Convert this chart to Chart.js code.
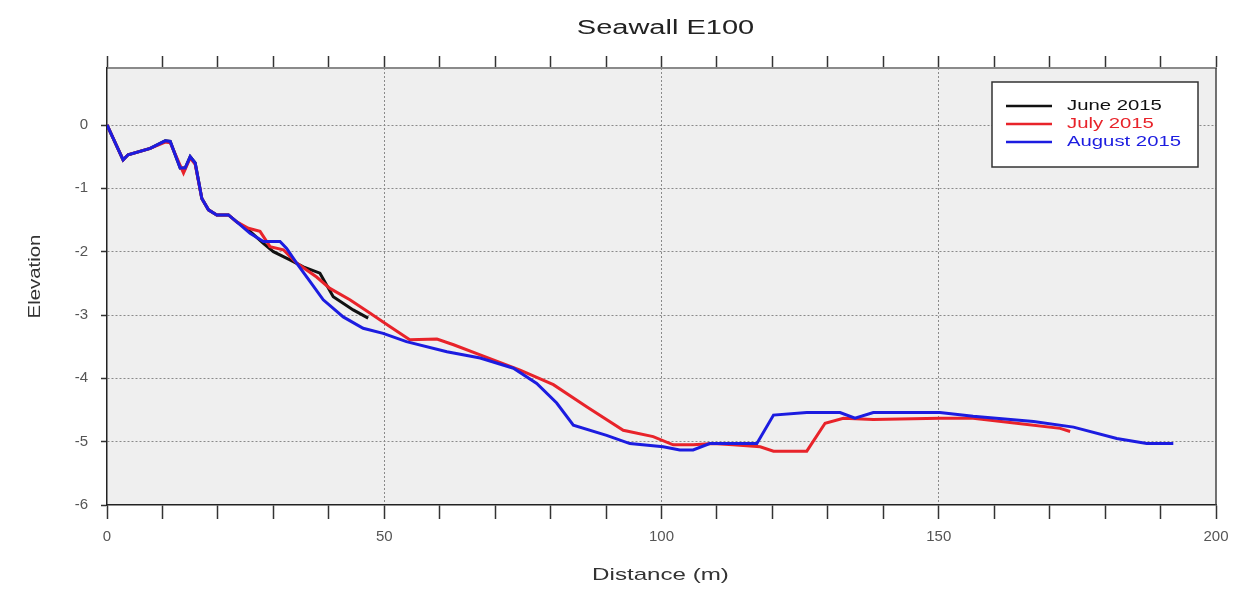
<!DOCTYPE html>
<html>
<head>
<meta charset="utf-8">
<script src="https://cdn.jsdelivr.net/npm/chart.js@4.4.1/dist/chart.umd.min.js"></script>
<style>
  html, body { margin: 0; padding: 0; background: #fff; }
  #wrap { width: 1245px; height: 591px; }
</style>
</head>
<body>
<div id="wrap"><canvas id="myChart" width="1245" height="591"></canvas></div>
<script>
var chartTitle = "Seawall E100";
var xTitle = "Distance (m)";
var yTitle = "Elevation";

var seriesNames = ["June 2015", "July 2015", "August 2015"];
var seriesColors = ["#111111", "#e8232a", "#1c1ce0"];

// distance (m) / elevation for each survey
var juneDist = [0, 2.9, 3.8, 7.8, 10.5, 11.4, 13.2, 14.1, 15, 15.9, 17.1, 18.3, 19.8, 21.9, 23.4, 25.8, 28.2, 30, 33, 35.4, 38.4, 40.8, 44.4, 47.1];
var juneElev = [0, -0.55, -0.47, -0.37, -0.25, -0.26, -0.68, -0.68, -0.5, -0.6, -1.16, -1.34, -1.42, -1.42, -1.53, -1.68, -1.87, -2.0, -2.13, -2.24, -2.34, -2.71, -2.92, -3.05];

var julyDist = [0, 2.9, 3.8, 7.8, 10.5, 11.4, 13.8, 15, 15.9, 17.1, 18.3, 19.8, 21.9, 23.4, 25.5, 27.6, 29.4, 31.8, 34.2, 37.8,
  40.2, 43.8, 47.4, 51, 54.6, 59.5, 62.5, 67.3, 74.5, 80.5, 86.5, 93.1, 98.5, 102.1, 105.7, 109.3, 112.9, 117.8, 120.2, 126.2,
  129.5, 132.8, 138.2, 150.2, 156.2, 164, 171.9, 173.7];
var julyElev = [0, -0.55, -0.47, -0.37, -0.27, -0.28, -0.76, -0.52, -0.62, -1.16, -1.34, -1.42, -1.42, -1.53, -1.63, -1.68, -1.92, -1.97, -2.18, -2.4,
  -2.58, -2.76, -2.97, -3.18, -3.39, -3.38, -3.47, -3.63, -3.87, -4.1, -4.45, -4.82, -4.92, -5.05, -5.05, -5.03, -5.05, -5.08, -5.15, -5.15,
  -4.71, -4.63, -4.65, -4.63, -4.63, -4.71, -4.79, -4.84];

var augDist = [0, 2.9, 3.8, 7.8, 10.5, 11.4, 13.2, 14.1, 15, 15.9, 17.1, 18.3, 19.8, 21.9, 23.4, 25.8, 28.2, 31.2, 32.4, 34.2,
  36.6, 39, 42.6, 46.2, 49.8, 54, 61.3, 67.3, 73.3, 77.5, 81.1, 84.1, 90.1, 94.3, 100.3, 103.3, 105.7, 108.7, 117.2, 120.2,
  126.2, 132.2, 134.9, 138.2, 150.2, 156.2, 167.1, 174.3, 182.1, 187.5, 192.3];
var augElev = [0, -0.55, -0.47, -0.37, -0.25, -0.26, -0.68, -0.68, -0.5, -0.6, -1.16, -1.34, -1.42, -1.42, -1.53, -1.71, -1.84, -1.84, -1.95, -2.18,
  -2.47, -2.76, -3.03, -3.21, -3.29, -3.42, -3.58, -3.68, -3.84, -4.08, -4.39, -4.74, -4.9, -5.03, -5.08, -5.13, -5.13, -5.03, -5.03, -4.58,
  -4.54, -4.54, -4.63, -4.54, -4.54, -4.6, -4.68, -4.77, -4.95, -5.03, -5.03];

var xMin = 0, xMax = 200, xStep = 10, xLabelEvery = 50;
var yMin = -6, yMax = 0.9, yStep = 1;

function toPoints(xs, ys) {
  var pts = [];
  for (var i = 0; i < xs.length; i++) pts.push({x: xs[i], y: ys[i]});
  return pts;
}

var allDist = [juneDist, julyDist, augDist];
var allElev = [juneElev, julyElev, augElev];
var datasets = [];
for (var i = 0; i < seriesNames.length; i++) {
  datasets.push({
    label: seriesNames[i],
    data: toPoints(allDist[i], allElev[i]),
    borderColor: seriesColors[i],
    backgroundColor: seriesColors[i],
    borderWidth: 3,
    pointRadius: 0,
    tension: 0,
    order: seriesNames.length - i
  });
}

// text drawn wider than the font, like the original picture
function wideText(ctx, text, x, y, sx, align) {
  ctx.save();
  ctx.translate(x, y);
  ctx.scale(sx, 1);
  ctx.textAlign = align || "center";
  ctx.fillText(text, 0, 0);
  ctx.restore();
}

var decor = {
  id: "decor",
  beforeDraw: function (chart) {
    var a = chart.chartArea, ctx = chart.ctx;
    ctx.save();
    ctx.fillStyle = "#efefef";
    ctx.fillRect(a.left, a.top, a.right - a.left, a.bottom - a.top);
    ctx.restore();
  },
  afterDraw: function (chart) {
    var a = chart.chartArea, ctx = chart.ctx;
    ctx.save();
    // right frame
    ctx.strokeStyle = "#444";
    ctx.lineWidth = 1.5;
    ctx.beginPath();
    ctx.moveTo(a.right, a.top);
    ctx.lineTo(a.right, a.bottom);
    ctx.stroke();

    ctx.fillStyle = "#222";
    ctx.textBaseline = "middle";
    ctx.font = "20px 'Liberation Sans', Arial, sans-serif";
    wideText(ctx, chartTitle, (a.left + a.right) / 2 + 4, 28, 1.45);

    ctx.font = "17px 'Liberation Sans', Arial, sans-serif";
    ctx.fillStyle = "#333";
    wideText(ctx, xTitle, (a.left + a.right) / 2 - 1, 575, 1.42);

    ctx.save();
    ctx.translate(35, (a.top + a.bottom) / 2 - 10);
    ctx.rotate(-Math.PI / 2);
    wideText(ctx, yTitle, 0, 0, 1.2);
    ctx.restore();

    // legend box
    var bx = 992, by = 82, bw = 206, bh = 85;
    ctx.fillStyle = "#ffffff";
    ctx.fillRect(bx, by, bw, bh);
    ctx.strokeStyle = "#333";
    ctx.lineWidth = 1.5;
    ctx.strokeRect(bx, by, bw, bh);
    ctx.font = "14px 'Liberation Sans', Arial, sans-serif";
    for (var i = 0; i < chart.data.datasets.length; i++) {
      var ds = chart.data.datasets[i];
      var ly = 106 + i * 18;
      ctx.strokeStyle = ds.borderColor;
      ctx.lineWidth = 2.5;
      ctx.beginPath();
      ctx.moveTo(1006, ly);
      ctx.lineTo(1052, ly);
      ctx.stroke();
      ctx.fillStyle = ds.borderColor;
      wideText(ctx, ds.label, 1067, ly, 1.45, "left");
    }
    ctx.restore();
  }
};

var tickFont = {family: "'Liberation Sans', Arial, sans-serif", size: 15};

new Chart("myChart", {
  type: "line",
  data: {datasets: datasets},
  options: {
    responsive: false,
    animation: false,
    layout: {padding: {left: 0, right: 29, top: 0, bottom: 0}},
    plugins: {legend: {display: false}, title: {display: false}, tooltip: {enabled: false}},
    scales: {
      x: {
        type: "linear",
        position: "bottom",
        min: xMin, max: xMax,
        afterFit: function (s) { s.height = 86; },
        ticks: {
          stepSize: xStep, autoSkip: false, maxRotation: 0, padding: 9,
          color: "#555", font: tickFont,
          callback: function (v) { return v % xLabelEvery === 0 ? String(v) : ""; }
        },
        grid: {
          color: function (c) {
            var v = c.tick ? c.tick.value : 0;
            return (v % xLabelEvery === 0 && v > xMin && v < xMax) ? "#8a8a8a" : "rgba(0,0,0,0)";
          },
          lineWidth: 1, tickLength: 14, tickColor: "#333", tickWidth: 1.5
        },
        border: {display: true, color: "#222", width: 1.5, dash: [2, 2]}
      },
      x2: {
        type: "linear",
        position: "top",
        min: xMin, max: xMax,
        afterFit: function (s) { s.height = 68; },
        ticks: {stepSize: xStep, autoSkip: false, display: false},
        grid: {drawOnChartArea: false, tickLength: 12, tickColor: "#333", tickWidth: 1.5},
        border: {display: true, color: "#8a8a8a", width: 2}
      },
      y: {
        type: "linear",
        position: "left",
        min: yMin, max: yMax,
        afterFit: function (s) { s.width = 107; },
        ticks: {stepSize: yStep, includeBounds: false, padding: 13, color: "#555", font: tickFont},
        grid: {
          color: function (c) {
            var v = c.tick ? c.tick.value : 0;
            return (v > yMin) ? "#8a8a8a" : "rgba(0,0,0,0)";
          },
          lineWidth: 1, tickLength: 6, tickColor: "#333", tickWidth: 1.5
        },
        border: {display: true, color: "#222", width: 1.5, dash: [2, 2]}
      }
    }
  },
  plugins: [decor]
});
</script>
</body>
</html>
